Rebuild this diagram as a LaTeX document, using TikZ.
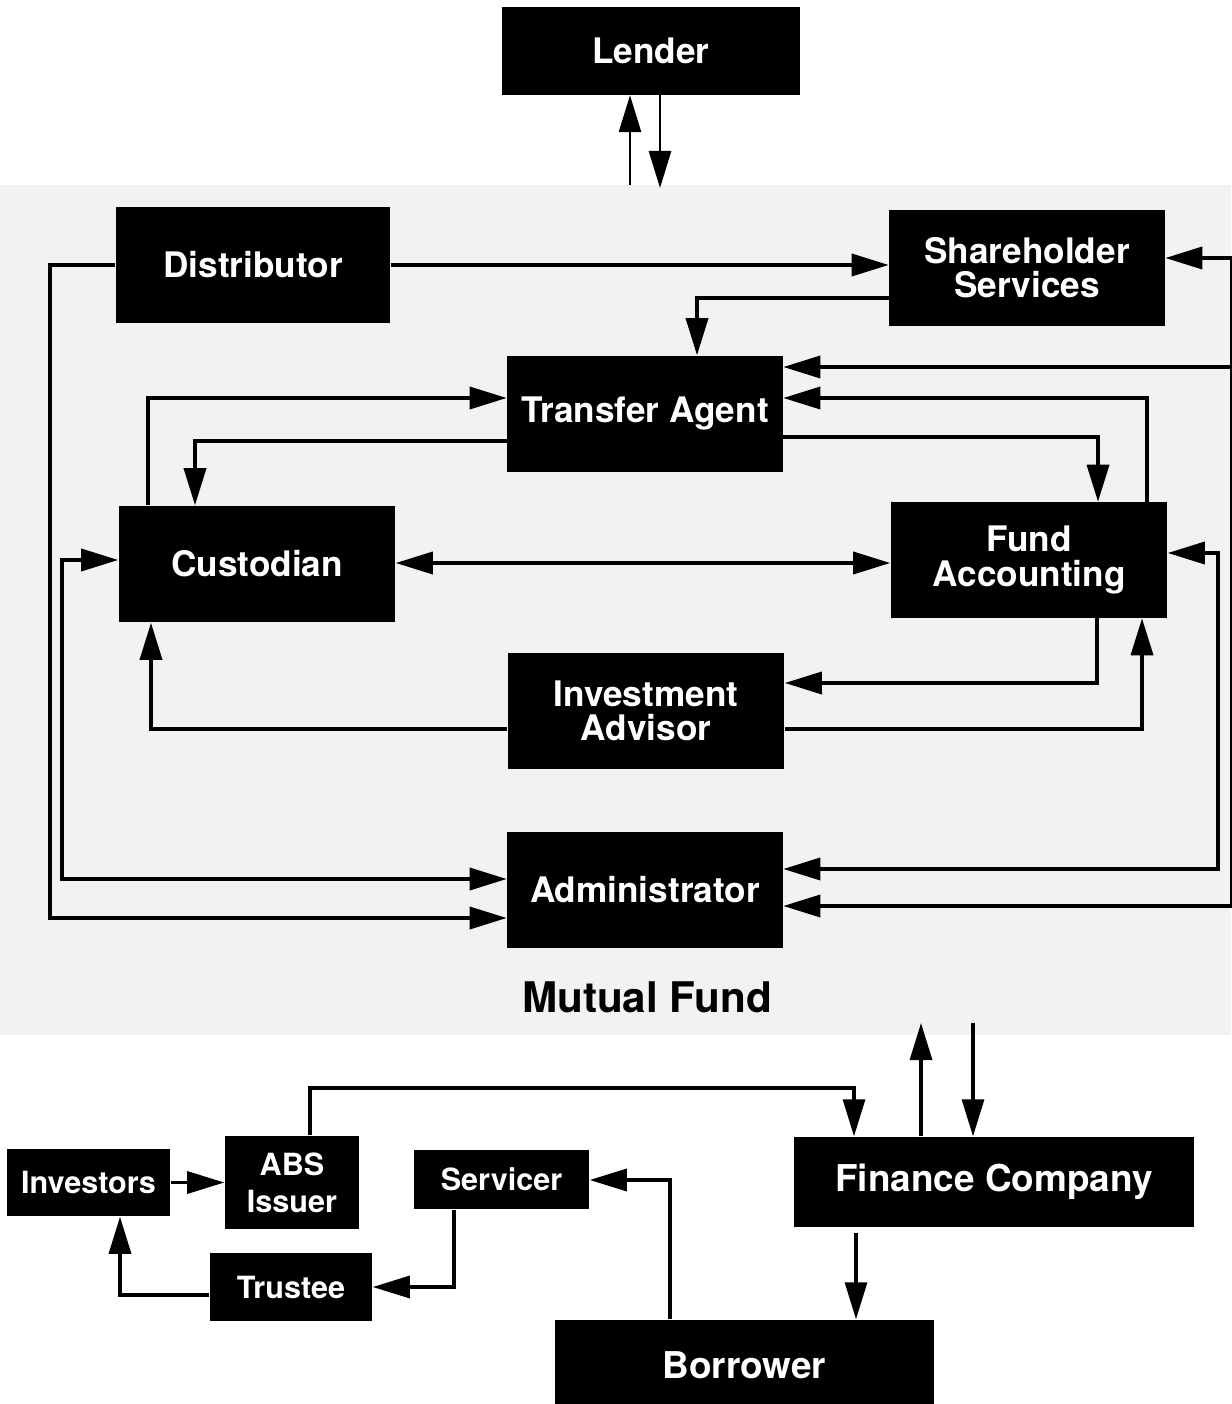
\documentclass[tikz,border=0pt]{standalone}
\usepackage{fontspec}
\setmainfont{TeX Gyre Heros}
\usetikzlibrary{arrows.meta}

\begin{document}
\begin{tikzpicture}[x=0.01cm,y=-0.01cm,
		box/.style={fill=black,text=white,inner sep=0pt,align=center,font=\bfseries\fontsize{10}{9.7}\selectfont},
		small/.style={box,font=\bfseries\fontsize{8.7}{10.5}\selectfont},
		arr/.style={-{Triangle[length=0.37cm,width=0.22cm]},line width=1pt},
		dbl/.style={{Triangle[length=0.37cm,width=0.22cm]}-{Triangle[length=0.37cm,width=0.22cm]},line width=1pt}]
		\useasboundingbox (0,0) rectangle (1231,1404);
		\fill[black!5] (0,185) rectangle (1231,1035);

		\foreach \name/\x/\y/\w/\h/\txt in {lender/651/51/2.98/0.87/Lender,
				dist/253/265/2.74/1.16/Distributor,
				share/1027/268/2.75/1.15/{Shareholder\\Services},
				transfer/645/414/2.75/1.16/Transfer Agent,
				custodian/257/564/2.76/1.16/Custodian,
				fundacc/1029/560/2.76/1.15/{Fund\\Accounting},
				advisor/646/711/2.76/1.16/{Investment\\Advisor},
				admin/645/890/2.75/1.16/Administrator} {
				\node[box,minimum width=\w cm,minimum height=\h cm] (\name) at (\x,\y) {\txt};
			}
		\node[font=\bfseries\fontsize{12}{14}\selectfont] (mutual) at (647,997) {Mutual Fund};

		\foreach \name/\x/\y/\w/\h/\txt in {investors/88.5/1182.5/1.63/0.67/Investors,
				abs/292/1182.5/1.34/0.93/{ABS\\Issuer},
				servicer/501.5/1179.5/1.75/0.59/Servicer,
				trustee/291/1287/1.62/0.68/Trustee} {
				\node[small,minimum width=\w cm,minimum height=\h cm] (\name) at (\x,\y) {\txt};
			}
		\node[box,font=\bfseries\fontsize{10.5}{12}\selectfont,minimum width=4cm,minimum height=0.9cm] (finance) at (994,1182) {Finance Company};
		\node[box,font=\bfseries\fontsize{10.5}{12}\selectfont,minimum width=3.79cm,minimum height=0.9cm] (borrower) at (744.5,1365) {Borrower};

		\coordinate (lenderup) at (630,185);
		\coordinate (lenderdown) at (660,188);
		\coordinate (edge) at (1232,0);
		\coordinate (fcup) at (921,1023);
		\coordinate (fcdown) at (973,1023);
		\coordinate (fcout) at (856,1233);

		\draw[arr,line width=0.8pt] (lenderup) -- (lender.south -| lenderup);
		\draw[arr,line width=0.8pt] (lender.south -| lenderdown) -- (lenderdown);

		\draw[arr] (dist.east) -- (share.west |- dist.east);
		\draw[arr] (dist.west) -| (50,918) -- (admin.west |- 0,918);
		\draw[arr] (share.west |- 0,298) -| (transfer.north -| 697,0);
		\draw[line width=1pt] (edge |- 0,258) -- (edge |- 0,906);
		\draw[arr] (edge |- 0,258) -- (share.east |- 0,258);
		\draw[arr] (edge |- 0,367) -- (transfer.east |- 0,367);
		\draw[arr] (edge |- 0,906) -- (admin.east |- 0,906);
		\draw[arr] (fundacc.north -| 1147,0) |- (transfer.east |- 0,398);
		\draw[arr] (transfer.east |- 0,437) -| (fundacc.north -| 1098,0);
		\draw[arr] (transfer.west |- 0,441) -| (custodian.north -| 195,0);
		\draw[arr] (custodian.north -| 148,0) |- (transfer.west |- 0,398);
		\draw[dbl] (custodian.east |- 0,563) -- (fundacc.west |- 0,563);
		\draw[dbl] (fundacc.east |- 0,553) -| (1218,869) -- (admin.east |- 0,869);
		\draw[dbl] (custodian.west |- 0,560) -| (62,879) -- (admin.west |- 0,879);
		\draw[arr] (fundacc.south -| 1097,0) |- (advisor.east |- 0,683);
		\draw[arr] (advisor.east |- 0,729) -| (fundacc.south -| 1142,0);
		\draw[arr] (advisor.west |- 0,729) -| (custodian.south -| 151,0);

		\draw[arr,line width=0.9pt] (finance.north -| fcup) -- (fcup);
		\draw[arr,line width=0.9pt] (fcdown) -- (finance.north -| fcdown);
		\draw[arr,line width=0.9pt] (abs.north -| 310,0) -- (310,1088) -| (finance.north -| 854,0);
		\draw[arr,line width=0.9pt] (investors.east) -- (abs.west |- investors.east);
		\draw[arr,line width=0.9pt] (servicer.south -| 454,0) |- (trustee.east |- 0,1287);
		\draw[arr,line width=0.9pt] (trustee.west |- 0,1295) -| (investors.south -| 120,0);
		\draw[arr,line width=0.9pt] (borrower.north -| 670,0) |- (servicer.east |- 0,1180);
		\draw[arr,line width=0.9pt] (fcout) -- (borrower.north -| fcout);
	\end{tikzpicture}
\end{document}
